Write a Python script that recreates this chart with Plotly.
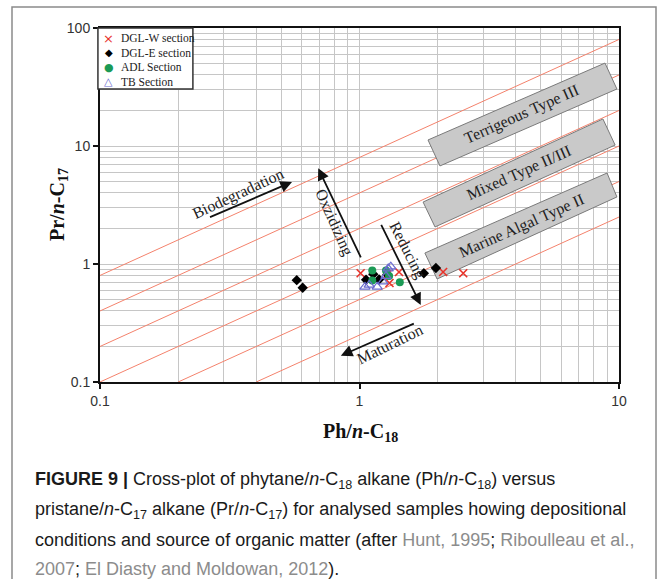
import plotly.graph_objects as go

# ---------------- data ----------------
dglw_ph = [1.01, 1.42, 1.305, 1.28, 2.10, 2.51]
dglw_pr = [0.835, 0.855, 0.69, 0.82, 0.855, 0.835]

dgle_ph = [0.573, 0.604, 1.06, 1.13, 1.19, 1.28, 1.77, 1.97]
dgle_pr = [0.73, 0.63, 0.735, 0.82, 0.74, 0.815, 0.835, 0.925]

adl_ph = [1.12, 1.265, 1.12, 1.43, 1.30]
adl_pr = [0.88, 0.88, 0.725, 0.70, 0.79]

tb_ph = [1.05, 1.09, 1.17, 1.23, 1.29, 1.32, 1.265]
tb_pr = [0.64, 0.665, 0.64, 0.71, 0.915, 0.95, 0.79]

ratio_k = [0.25, 0.5, 1, 2, 4, 8]          # Pr/n-C17 = k * Ph/n-C18 reference lines
x_range = [0.1, 10]
y_range = [0.1, 100]

x_ticks = [0.1, 1, 10]
y_ticks = [0.1, 1, 10, 100]

series = [
    ("DGL-W section", dglw_ph, dglw_pr, "x-thin", "#e8332a", 8),
    ("DGL-E section", dgle_ph, dgle_pr, "diamond", "#000000", 8),
    ("ADL Section", adl_ph, adl_pr, "circle", "#1b9a55", 8),
    ("TB Section", tb_ph, tb_pr, "triangle-up-open", "#6b6bd0", 9),
]

SERIF = "Liberation Serif, Times New Roman, serif"
SANS = "Liberation Sans, Arial, sans-serif"

fig = go.Figure()

# samples
for name, xs, ys, sym, col, sz in series:
    mk = dict(symbol=sym, color=col, size=sz)
    if sym == "x-thin":
        mk["line"] = dict(color=col, width=1.6)
    elif sym == "triangle-up-open":
        mk["line"] = dict(color=col, width=1.2)
    fig.add_trace(go.Scatter(x=xs, y=ys, mode="markers", name=name,
                             marker=mk, showlegend=False))

shapes = []
annotations = []

# ratio lines (drawn under the grey boxes, above the grid)
for k in ratio_k:
    xa = max(x_range[0], y_range[0] / k)
    xb = min(x_range[1], y_range[1] / k)
    shapes.append(dict(type="line", xref="x", yref="y", x0=xa, y0=k * xa, x1=xb, y1=k * xb,
                       line=dict(color="#f4826c", width=1), layer="between"))

# rotated grey kerogen-type boxes (corners in log10 units)
boxes = [
    ("Terrigeous Type III", [(0.264, 1.051), (0.946, 1.703), (0.992, 1.483), (0.310, 0.831)], (0.628, 1.267)),
    ("Mixed Type II/III", [(0.245, 0.525), (0.938, 1.229), (0.985, 1.008), (0.291, 0.314)], (0.615, 0.771)),
    ("Marine Algal Type II", [(0.252, 0.093), (0.954, 0.771), (0.992, 0.568), (0.299, -0.127)], (0.624, 0.326)),
]
for label, corners, (cx, cy) in boxes:
    pts = [(10 ** a, 10 ** b) for a, b in corners]
    path = "M " + " L ".join(f"{px:.5f},{py:.5f}" for px, py in pts) + " Z"
    shapes.append(dict(type="path", path=path, xref="x", yref="y",
                       fillcolor="#c9c9c9", line=dict(color="#7a7a7a", width=1),
                       layer="between"))
    annotations.append(dict(x=cx, y=cy, xref="x", yref="y", text=label,
                            showarrow=False, textangle=-24,
                            xanchor="center", yanchor="middle",
                            font=dict(family=SERIF, size=16, color="#222222")))

# process arrows (head position in log10 units, tail offset in px)
arrows = [
    (-0.260, 0.695, -84, 36),
    (-0.159, 0.811, 44, 92),
    (0.236, -0.347, -41, -83),
    (-0.072, -0.777, 75, -33),
]
for hx, hy, ax, ay in arrows:
    annotations.append(dict(x=hx, y=hy, xref="x", yref="y", text=" ",
                            showarrow=True, ax=ax, ay=ay, arrowhead=2,
                            arrowsize=1.3, arrowwidth=1.8, arrowcolor="#111111",
                            standoff=0, startstandoff=0,
                            font=dict(size=2)))

labels = [
    ("Biodegradation", -0.468, 0.593, -25),
    ("Oxzidizing", -0.098, 0.357, 66),
    ("Reducing", 0.184, 0.119, 63),
    ("Maturation", 0.114, -0.678, -26),
]
for t, lx, ly, ang in labels:
    annotations.append(dict(x=lx, y=ly, xref="x", yref="y", text=t,
                            showarrow=False, textangle=ang,
                            xanchor="center", yanchor="middle",
                            font=dict(family=SERIF, size=16, color="#222222")))

# custom legend
shapes.append(dict(type="rect", xref="paper", yref="paper",
                   x0=-0.004, x1=0.179, y0=0.828, y1=1.0,
                   fillcolor="white", line=dict(color="#333333", width=1.5),
                   layer="above"))
leg_rows = [1 - (38.3 - 28) / 354, 1 - (52.7 - 28) / 354,
            1 - (67.3 - 28) / 354, 1 - (81.7 - 28) / 354]
leg_glyph = ["×", "◆", "●", "△"]
leg_size = [13, 10, 11, 11]
for (name, _, _, _, col, _), yy, g, gs in zip(series, leg_rows, leg_glyph, leg_size):
    annotations.append(dict(x=0.017, y=yy, xref="paper", yref="paper", text=g,
                            showarrow=False, xanchor="center", yanchor="middle",
                            font=dict(family="DejaVu Sans", size=gs, color=col)))
    annotations.append(dict(x=0.036, y=yy, xref="paper", yref="paper", text=name,
                            showarrow=False, xanchor="left", yanchor="middle",
                            font=dict(family=SERIF, size=11.5, color="#222222")))

# axis titles
annotations.append(dict(x=0.501, y=(382 - 432) / 354, xref="paper", yref="paper",
                        text="<b>Ph/<i>n</i>-C<sub>18</sub></b>", showarrow=False,
                        xanchor="center", yanchor="middle",
                        font=dict(family=SERIF, size=20, color="#111111")))
annotations.append(dict(x=(58 - 100) / 519, y=0.5, xref="paper", yref="paper",
                        text="<b>Pr/<i>n</i>-C<sub>17</sub></b>", showarrow=False,
                        textangle=-90, xanchor="center", yanchor="middle",
                        font=dict(family=SERIF, size=20, color="#111111")))

# caption
G = '<span style="color:#8c8c8c">'
cap = [
    "<b>FIGURE 9 |</b> Cross-plot of phytane/<i>n</i>-C<sub>18</sub> alkane (Ph/<i>n</i>-C<sub>18</sub>) versus",
    "pristane/<i>n</i>-C<sub>17</sub> alkane (Pr/<i>n</i>-C<sub>17</sub>) for analysed samples howing depositional",
    f"conditions and source of organic matter (after {G}Hunt, 1995</span>; {G}Riboulleau et al.,</span>",
    f"{G}2007</span>; {G}El Diasty and Moldowan, 2012</span>).",
]
cap_y = [480, 510, 540, 569]
for t, py in zip(cap, cap_y):
    annotations.append(dict(x=(33 - 100) / 519, y=(382 - py) / 354, xref="paper", yref="paper",
                            text=t, showarrow=False, xanchor="left", yanchor="middle",
                            font=dict(family=SANS, size=18, color="#1a1a1a")))

# outer frame
shapes.append(dict(type="rect", xref="paper", yref="paper",
                   x0=(12 - 100) / 519, x1=(656 - 100) / 519,
                   y0=(382 - 640) / 354, y1=(382 - 7) / 354,
                   line=dict(color="#8a8a8a", width=1.5), fillcolor="rgba(0,0,0,0)",
                   layer="below"))

axis_common = dict(
    type="log", showline=True, mirror=True, linecolor="#111111", linewidth=2,
    showgrid=True, gridcolor="#c6c6c6", gridwidth=1, dtick=1,
    ticks="outside", ticklen=5, tickwidth=1.5, tickcolor="#111111",
    tickfont=dict(family=SANS, size=14, color="#333333"),
    minor=dict(showgrid=True, gridcolor="#c6c6c6", gridwidth=1, dtick="D1", ticks=""),
    zeroline=False,
)

fig.update_layout(
    width=663, height=579,
    margin=dict(l=100, r=44, t=28, b=197, pad=0),
    paper_bgcolor="white", plot_bgcolor="white",
    xaxis=dict(axis_common, range=[-1, 1], tickvals=x_ticks, ticktext=["0.1", "1", "10"]),
    yaxis=dict(axis_common, range=[-1, 2], tickvals=y_ticks, ticktext=["0.1", "1", "10", "100"]),
    shapes=shapes, annotations=annotations, showlegend=False,
)

fig.write_html("out.html", config={"displayModeBar": False},
               post_script="document.body.style.margin='0';")
